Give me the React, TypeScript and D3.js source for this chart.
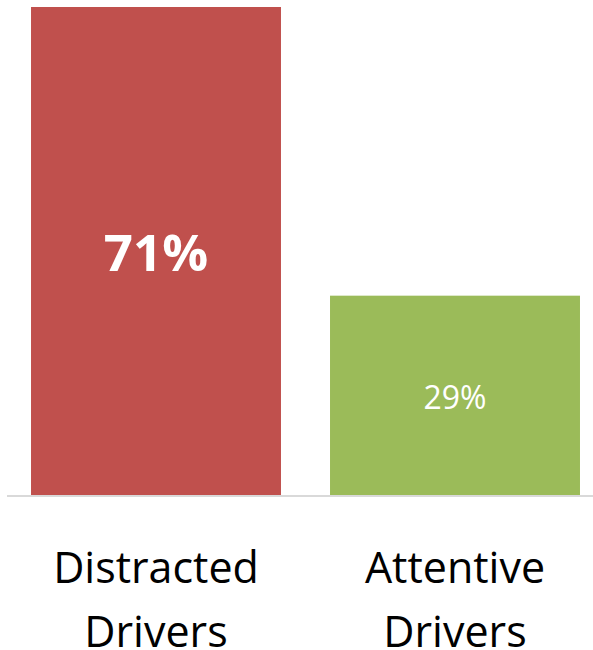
import React from "react";
import * as d3 from "d3";

const categories = ["Distracted Drivers", "Attentive Drivers"];
const values = [71, 29];
const valueLabels = ["71%", "29%"];
const colors = ["#C0504D", "#9BBB59"];

const W = 593;
const H = 650;

export default function App() {
  const x = d3
    .scaleBand<string>()
    .domain(categories)
    .range([6.5, 604.5])
    .paddingInner(0.164)
    .paddingOuter(0.082);
  const y = d3.scaleLinear().domain([0, 71]).range([495, 7]);
  const font = "'Open Sans', 'Noto Sans', sans-serif";

  return (
    <div style={{ position: "fixed", left: 0, top: 0 }}>
      <svg width={W} height={H} style={{ display: "block" }}>
        <rect width={W} height={H} fill="#ffffff" />
        {categories.map((c, i) => (
          <rect
            key={c}
            x={x(c)}
            y={y(values[i])}
            width={x.bandwidth()}
            height={y(0) - y(values[i])}
            fill={colors[i]}
          />
        ))}
        <line x1={7} x2={W} y1={y(0) + 1} y2={y(0) + 1} stroke="#D9D9D9" strokeWidth={2} />
        {categories.map((c, i) => {
          const cx = (x(c) as number) + x.bandwidth() / 2;
          const cy = (y(values[i]) + y(0)) / 2;
          const big = i === 0;
          return (
            <text
              key={c + "v"}
              x={cx}
              y={cy}
              dy={big ? 20 : 14}
              textAnchor="middle"
              fill="#ffffff"
              fontFamily={font}
              fontWeight={big ? 700 : 400}
              fontSize={big ? 51 : 32}
            >
              {valueLabels[i]}
            </text>
          );
        })}
        {categories.map((c, i) => {
          const cx = (x(c) as number) + x.bandwidth() / 2;
          const words = c.split(" ");
          return (
            <text
              key={c + "l"}
              textAnchor="middle"
              fill="#000000"
              fontFamily={font}
              fontSize={43}
            >
              {words.map((w, j) => (
                <tspan key={j} x={cx} y={583 + j * 64}>
                  {w}
                </tspan>
              ))}
            </text>
          );
        })}
      </svg>
    </div>
  );
}
